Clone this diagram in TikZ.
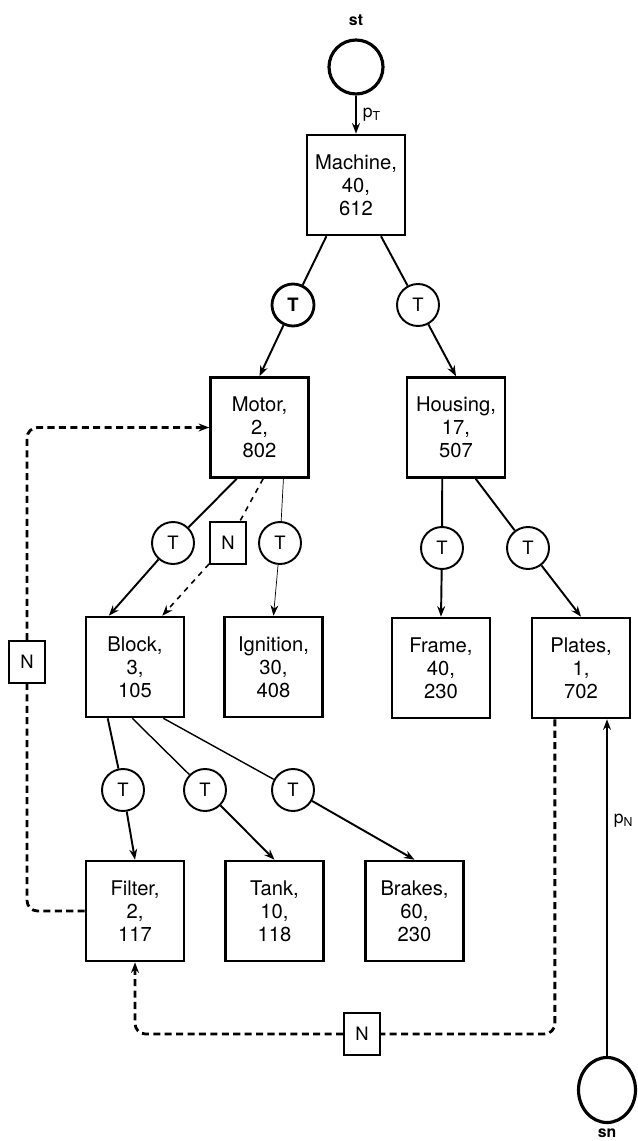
\documentclass[tikz,border=0pt]{standalone}
\usepackage{fontspec}
\setmainfont{TeX Gyre Heros}
\usetikzlibrary{shapes.geometric,arrows.meta}
\begin{document}
\begin{tikzpicture}[x=0.02cm,y=-0.02cm,>={Stealth[length=6pt,width=4.5pt]},
	part/.style={draw,line width=1.5pt,minimum width=1.96cm,minimum height=2cm,inner sep=0pt,align=center,font=\fontsize{11.5}{13}\selectfont},
	tc/.style={draw,circle,line width=1.1pt,minimum size=0.84cm,inner sep=0pt,font=\fontsize{10.5}{12}\selectfont},
	nb/.style={draw,line width=1.1pt,minimum width=0.72cm,minimum height=0.84cm,inner sep=0pt,font=\fontsize{10.5}{12}\selectfont},
	term/.style={draw,line width=1.8pt,inner sep=0pt},
	tag/.style={font=\fontsize{9}{10}\selectfont\bfseries},
	link/.style={line width=1.1pt},
	nlink/.style={line width=1.6pt,dash pattern=on 4pt off 2.5pt,rounded corners=6pt}]
	\useasboundingbox (0,0) rectangle (638,1141);
	\node[term,circle,minimum size=1.08cm] (st) at (356,67) {};
	\node[tag] (stlab) at (356,20) {st};
	\node[part] (machine) at (356,185) {Machine,\\40,\\612};
	\node[tc,line width=1.6pt,font=\fontsize{10.5}{12}\selectfont\bfseries] (t1) at (293,305) {T};
	\node[tc] (t2) at (418,305) {T};
	\node[part] (motor) at (259.5,427.5) {Motor,\\2,\\802};
	\node[part] (housing) at (456,427.5) {Housing,\\17,\\507};
	\node[tc] (t3) at (173,543) {T};
	\node[nb] (nmid) at (228,543) {N};
	\node[tc] (t4) at (280,543) {T};
	\node[tc] (t5) at (442,548) {T};
	\node[tc] (t6) at (528,548) {T};
	\node[part] (block) at (135,667) {Block,\\3,\\105};
	\node[part] (ignition) at (273.5,667) {Ignition,\\30,\\408};
	\node[part] (frame) at (441,668) {Frame,\\40,\\230};
	\node[part] (plates) at (581,668) {Plates,\\1,\\702};
	\node[nb] (nleft) at (27,662) {N};
	\node[tc] (t7) at (123,790) {T};
	\node[tc] (t8) at (205,790) {T};
	\node[tc] (t9) at (293,790) {T};
	\node[part] (filter) at (135,911) {Filter,\\2,\\117};
	\node[part] (tank) at (274.5,911) {Tank,\\10,\\118};
	\node[part] (brakes) at (414.5,911) {Brakes,\\60,\\230};
	\node[nb] (nbot) at (362,1034) {N};
	\node[term,ellipse,minimum width=1.14cm,minimum height=1.3cm] (sn) at (607,1090) {};
	\node[tag] (snlab) at (607,1133) {sn};
	% tree
	\draw[link,->] (st) -- (machine) node[midway,right] {p\textsubscript{T}};
	\draw[link] (machine.-120) -- (t1);
	\draw[link,->] (t1) -- (motor.north);
	\draw[link] (machine.-64) -- (t2);
	\draw[link,->] (t2) -- (housing.north);
	\draw[link] (motor.-114) -- (t3);
	\draw[link,->] (t3) -- (block.117);
	\draw[dashed,line width=0.9pt] (motor.-86) -- (nmid);
	\draw[dashed,line width=0.9pt,->] (nmid) -- (block.62);
	\draw[thin] (motor.-65) -- (t4);
	\draw[thin,->] (t4) -- (ignition.north);
	\draw[link] (housing.-105) -- (t5);
	\draw[link,->] (t5) -- (frame.north);
	\draw[link] (housing.-69) -- (t6);
	\draw[link,->] (t6) -- (plates.north);
	\draw[link] (block.-118) -- (t7);
	\draw[link,->] (t7) -- (filter.north);
	\draw[thick] (block.-93) -- (t8);
	\draw[link,->] (t8) -- (tank.north);
	\draw[thick] (block.-61) -- (t9);
	\draw[link,->] (t9) -- (brakes.north);
	% N links
	\draw[nlink] (filter.west) -| (nleft);
	\draw[nlink,->] (nleft) |- (motor.west);
	\draw[nlink] (plates.-117) |- (nbot);
	\draw[nlink,->] (nbot) -| (filter.south);
	\draw[link,->] (sn.north) -- (sn.north |- plates.south) node[pos=0.7,right] {p\textsubscript{N}};
\end{tikzpicture}
\end{document}
